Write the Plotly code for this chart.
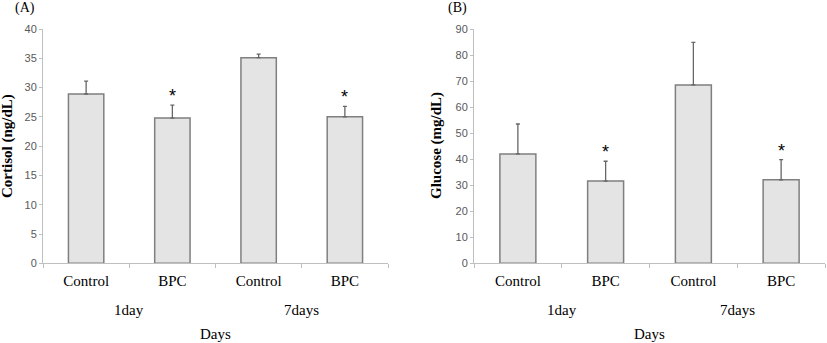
import plotly.graph_objects as go

groups = ["Control", "BPC", "Control ", "BPC "]
group_labels = ["Control", "BPC", "Control", "BPC"]
days = ["1day", "7days"]

cortisol = [28.9, 24.8, 35.1, 25.0]
cortisol_err = [2.2, 2.2, 0.6, 1.8]
glucose = [42.0, 31.6, 68.5, 32.1]
glucose_err = [11.5, 7.6, 16.4, 7.7]
significant = [False, True, False, True]

fig = go.Figure()

bar_style = dict(marker=dict(color="#e4e4e4", line=dict(color="#7f7f7f", width=1.5)), showlegend=False)

fig.add_trace(go.Bar(x=groups, y=cortisol, xaxis="x", yaxis="y",
                     error_y=dict(type="data", array=cortisol_err, arrayminus=[0]*4, symmetric=False,
                                  color="#666666", thickness=1.3, width=2),
                     **bar_style))
fig.add_trace(go.Bar(x=groups, y=glucose, xaxis="x2", yaxis="y2",
                     error_y=dict(type="data", array=glucose_err, arrayminus=[0]*4, symmetric=False,
                                  color="#666666", thickness=1.3, width=2),
                     **bar_style))

serif = "Liberation Serif"
sans = "Liberation Sans"

axis_x = dict(type="category", tickson="boundaries", ticks="outside", ticklen=4, tickcolor="#bfbfbf",
              showline=True, linecolor="#bfbfbf", linewidth=1, tickmode="array", tickvals=groups,
              ticktext=group_labels, tickfont=dict(family=serif, size=15, color="black"),
              ticklabelstandoff=4, automargin=False,
              showgrid=False, zeroline=False, fixedrange=True)
axis_y = dict(ticks="outside", ticklen=3, tickcolor="#bfbfbf", showline=True, linecolor="#bfbfbf",
              linewidth=1, showgrid=False, zeroline=False, automargin=False,
              tickfont=dict(family=sans, size=11, color="#595959"))

fig.update_layout(
    width=827, height=343, margin=dict(l=0, r=0, t=0, b=0, pad=0), autosize=False,
    plot_bgcolor="white", paper_bgcolor="white", bargap=0.59,
    xaxis=dict(domain=[43/827, 388/827], anchor="y", **axis_x),
    xaxis2=dict(domain=[474/827, 825/827], anchor="y2", **axis_x),
    yaxis=dict(domain=[1-263.3/343, 1-29/343], range=[0, 40], dtick=5, anchor="x", **axis_y),
    yaxis2=dict(domain=[1-263.3/343, 1-29/343], range=[0, 90], dtick=10, anchor="x2", **axis_y),
)

annotations = []
for xr, yr, vals, errs, label, title, tx in [
    ("x", "y", cortisol, cortisol_err, "(A)", "Cortisol (ng/dL)", 8),
    ("x2", "y2", glucose, glucose_err, "(B)", "Glucose (mg/dL)", 437),
]:
    for i, (v, e, s) in enumerate(zip(vals, errs, significant)):
        if s:
            annotations.append(dict(x=groups[i], y=v + e, xref=xr, yref=yr, text="*", showarrow=False,
                                    xanchor="center", yanchor="bottom", yshift=-3,
                                    font=dict(family=sans, size=18, color="black")))
    for j, d in enumerate(days):
        annotations.append(dict(x=2*j + 0.5, y=1-310/343, xref=xr, yref="paper", text=d, showarrow=False,
                                xanchor="center", yanchor="middle",
                                font=dict(family=serif, size=15, color="black")))
    annotations.append(dict(x=1.5, y=1-334/343, xref=xr, yref="paper", text="Days", showarrow=False,
                            xanchor="center", yanchor="middle",
                            font=dict(family=serif, size=15, color="black")))
    annotations.append(dict(x=tx/827, y=1-146/343, xref="paper", yref="paper", text="<b>" + title + "</b>",
                            textangle=-90, showarrow=False, xanchor="center", yanchor="middle",
                            font=dict(family=serif, size=15, color="black")))

annotations.append(dict(x=25/827, y=1-8/343, xref="paper", yref="paper", text="(A)", showarrow=False,
                        xanchor="center", yanchor="middle",
                        font=dict(family=serif, size=14, color="black")))
annotations.append(dict(x=457/827, y=1-8/343, xref="paper", yref="paper", text="(B)", showarrow=False,
                        xanchor="center", yanchor="middle",
                        font=dict(family=serif, size=14, color="black")))
fig.update_layout(annotations=annotations)

fig.write_html("out.html")
